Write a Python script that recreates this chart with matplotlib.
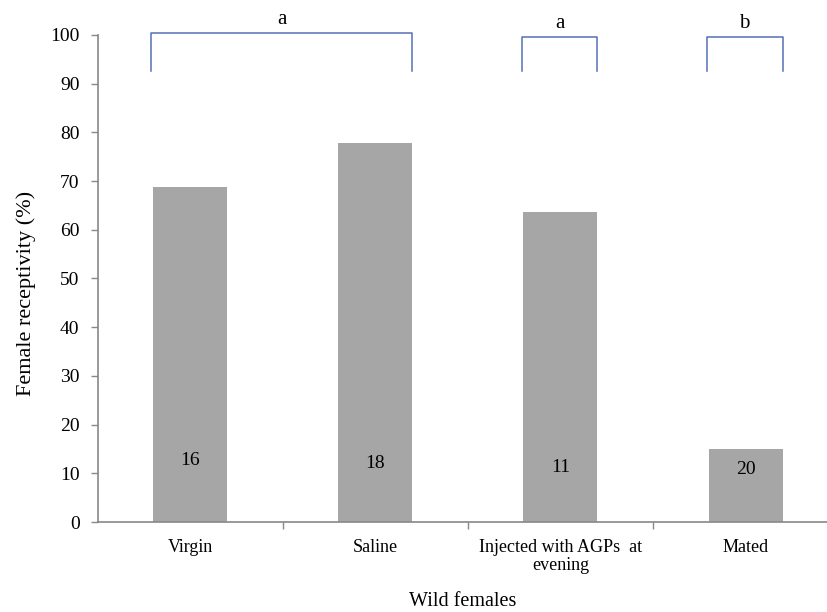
import numpy as np
from matplotlib import pyplot as plt

# Receptivity of wild females per treatment group
groups = ["Virgin", "Saline", "Injected with AGPs  at\nevening", "Mated"]
receptivity = [68.75, 77.8, 63.6, 15.0]
n_females = [16, 18, 11, 20]

# significance letters and the bar ranges they cover
sig_letters = ["a", "a", "b"]
sig_groups = [(0, 1), (2, 2), (3, 3)]

# heights where the sample sizes are written
count_y = [12.7, 12.1, 11.1, 10.7]

plt.rcParams["font.family"] = ["Liberation Serif", "DejaVu Serif"]

fig = plt.figure(figsize=(8.27, 6.12), dpi=100)
ax = fig.add_axes([0.118, 0.147, 0.882, 0.796])

x = np.arange(len(groups))
bar_w = 0.4
ax.bar(x, receptivity, width=bar_w, color="#a6a6a6", zorder=2)

for xi, n, yy in zip(x, n_females, count_y):
    ax.text(xi, yy, str(n), ha="center", va="center", fontsize=14)

# brackets above the groups
bracket_color = "#5470b8"
tops = [100.3, 99.5, 99.5]
for (g0, g1), letter, top in zip(sig_groups, sig_letters, tops):
    left = g0 - bar_w / 2 - 0.01
    right = g1 + bar_w / 2
    ax.plot([left, left, right, right], [92.5, top, top, 92.5],
            color=bracket_color, lw=1.1, clip_on=False, zorder=3)
    ax.text((left + right) / 2, top + 2.9, letter, ha="center", va="center",
            fontsize=15, clip_on=False)

ax.set_ylim(0, 100)
ax.set_xlim(-0.5, 3.44)
ax.set_yticks(range(0, 101, 10))
ax.tick_params(axis="y", direction="out", length=5, width=1, color="#888888",
               labelsize=14, pad=8)

# boundary ticks between categories, labels at the centres
ax.set_xticks(x[:-1] + 0.5)
ax.set_xticklabels([])
ax.tick_params(axis="x", which="major", direction="out", length=5, width=1,
               color="#888888")
ax.set_xticks(x, minor=True)
ax.set_xticklabels(groups, minor=True, fontsize=13, linespacing=1.1)
ax.tick_params(axis="x", which="minor", length=0, pad=12)

for side in ["top", "right"]:
    ax.spines[side].set_visible(False)
for side in ["left", "bottom"]:
    ax.spines[side].set_color("#888888")
    ax.spines[side].set_linewidth(1.2)

ax.set_ylabel("Female receptivity (%)", fontsize=16)
ax.yaxis.set_label_coords(-0.085, 0.47)
ax.set_xlabel("Wild females", fontsize=14.5, labelpad=13)

fig.savefig("out.png", dpi=100)
